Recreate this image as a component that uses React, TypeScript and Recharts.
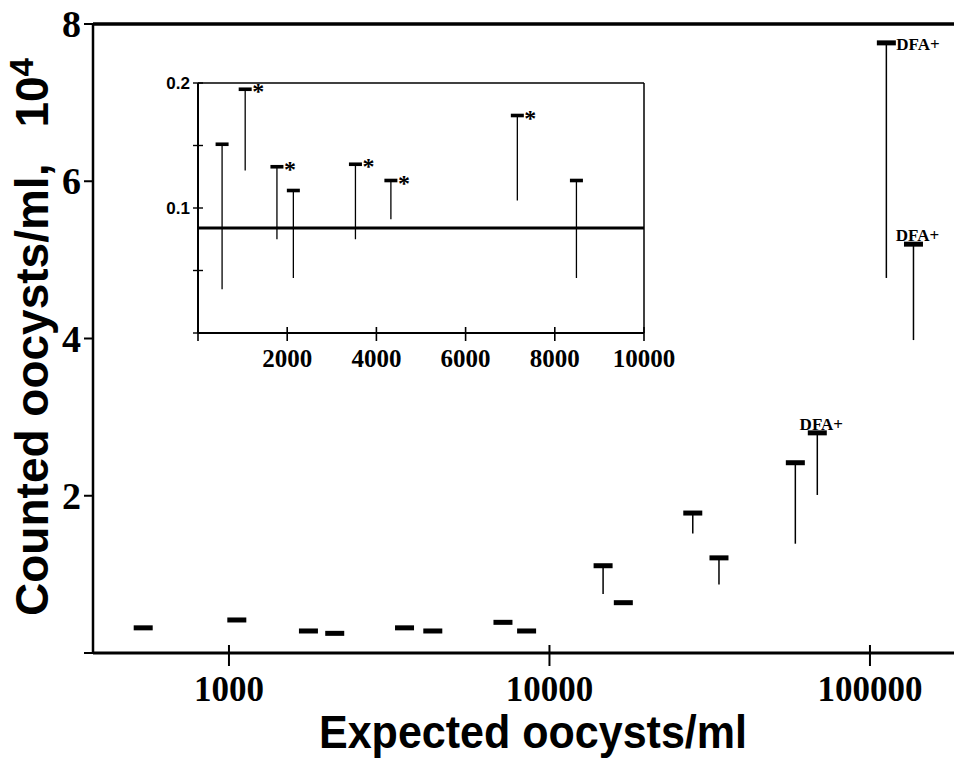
import React from 'react';
import {
  ScatterChart,
  Scatter,
  XAxis,
  YAxis,
  ErrorBar,
  ReferenceLine,
  Label,
} from 'recharts';

// ---------- data ----------
// expected oocysts/ml for the low-concentration samples (shared by main plot and inset)
const expectedLow = [540, 1058, 1770, 2138, 3530, 4325, 7160, 8485];
// counted oocysts/ml (x10^4) for those samples
const countedLowMean = [0.32, 0.42, 0.28, 0.25, 0.32, 0.28, 0.39, 0.28];

// high-concentration samples
const expectedHigh = [14700, 17000, 28000, 33800, 58500, 68500, 112500, 136700];
const countedHighMean = [1.11, 0.64, 1.78, 1.21, 2.42, 2.8, 7.76, 5.2];
const countedHighLow = [0.75, 0.64, 1.52, 0.87, 1.39, 2.01, 4.77, 3.98];
const highNotes = ['', '', '', '', '', 'DFA+', 'DFA+', 'DFA+'];

// inset values
const insetMean = [0.151, 0.195, 0.133, 0.114, 0.135, 0.122, 0.174, 0.122];
const insetLow = [0.035, 0.13, 0.075, 0.044, 0.075, 0.091, 0.106, 0.044];
const insetNotes = ['', '*', '*', '', '*', '*', '*', ''];
const insetLevel = 0.084;

// ticks
const mainXTicks = [1000, 10000, 100000];
const mainYTicks = [0, 2, 4, 6, 8];
const insetXTicks = [0, 2000, 4000, 6000, 8000, 10000];
const insetYTicks = [0, 0.05, 0.1, 0.15, 0.2];
const insetYLabels = [0.1, 0.2];

// ---------- derived tables ----------
const mainData = [
  ...expectedLow.map((x, i) => ({ x, y: countedLowMean[i], err: [0, 0], note: '' })),
  ...expectedHigh.map((x, i) => ({
    x,
    y: countedHighMean[i],
    err: [countedHighMean[i] - countedHighLow[i], 0],
    note: highNotes[i],
  })),
];

const insetData = expectedLow.map((x, i) => ({
  x,
  y: insetMean[i],
  err: [insetMean[i] - insetLow[i], 0],
  note: insetNotes[i],
}));

const SERIF = '"Liberation Serif", "Times New Roman", serif';
const SANS = '"Liberation Sans", Arial, sans-serif';

// ---------- shapes ----------
const MainMark = (props: any) => {
  const { cx, cy, payload } = props;
  const note = payload?.note;
  return (
    <g>
      <rect x={cx - 9.5} y={cy - 2.5} width={19} height={5} fill="#000" />
      {note ? (
        payload.y > 7 ? (
          <text x={cx + 10} y={cy + 7} fontFamily={SERIF} fontWeight="bold" fontSize={17} fill="#000">
            {note}
          </text>
        ) : (
          <text x={cx + 4} y={cy - 3} textAnchor="middle" fontFamily={SERIF} fontWeight="bold" fontSize={17} fill="#000">
            {note}
          </text>
        )
      ) : null}
    </g>
  );
};

const InsetMark = (props: any) => {
  const { cx, cy, payload } = props;
  const note = payload?.note;
  return (
    <g>
      <rect x={cx - 6.5} y={cy - 1.8} width={13} height={3.6} fill="#000" />
      {note ? (
        <text x={cx + 7} y={cy + 10} fontFamily={SERIF} fontWeight="bold" fontSize={24} fill="#000">
          {note}
        </text>
      ) : null}
    </g>
  );
};

// ---------- ticks ----------
const MainXTick = (props: any) => {
  const { x, y, payload } = props;
  return (
    <g>
      <line x1={x} y1={y - 8} x2={x} y2={y + 13} stroke="#000" strokeWidth={2} />
      <text x={x} y={y + 48} textAnchor="middle" fontFamily={SERIF} fontWeight="bold" fontSize={35} fill="#000">
        {payload.value}
      </text>
    </g>
  );
};

const MainYTick = (props: any) => {
  const { x, y, payload } = props;
  return (
    <g>
      <line x1={x - 9} y1={y} x2={x} y2={y} stroke="#000" strokeWidth={2} />
      {payload.value !== 0 ? (
        <text x={x - 12} y={y + 13} textAnchor="end" fontFamily={SERIF} fontWeight="bold" fontSize={38} fill="#000">
          {payload.value}
        </text>
      ) : null}
    </g>
  );
};

const InsetXTick = (props: any) => {
  const { x, y, payload } = props;
  return (
    <g>
      <line x1={x} y1={y - 6} x2={x} y2={y + 8} stroke="#000" strokeWidth={1.6} />
      {payload.value !== 0 ? (
        <text x={x} y={y + 34} textAnchor="middle" fontFamily={SERIF} fontWeight="bold" fontSize={25} fill="#000">
          {payload.value}
        </text>
      ) : null}
    </g>
  );
};

const InsetYTick = (props: any) => {
  const { x, y, payload } = props;
  const show = insetYLabels.includes(payload.value);
  return (
    <g>
      <line x1={x - 5} y1={y} x2={x + 5} y2={y} stroke="#000" strokeWidth={1.4} />
      {show ? (
        <text x={x - 8} y={y + 6} textAnchor="end" fontFamily={SANS} fontWeight="bold" fontSize={17} fill="#000">
          {payload.value}
        </text>
      ) : null}
    </g>
  );
};

// ---------- titles ----------
const XTitle = () => (
  <text
    x={525}
    y={740}
    textAnchor="middle"
    fontFamily={SANS}
    fontWeight="bold"
    fontSize={46}
    textLength={428}
    lengthAdjust="spacingAndGlyphs"
    fill="#000"
  >
    Expected oocysts/ml
  </text>
);

const YTitle = () => (
  <text
    transform="translate(40,329) rotate(-90)"
    textAnchor="middle"
    fontFamily={SANS}
    fontWeight="bold"
    fontSize={46}
    fill="#000"
  >
    Counted oocysts/ml,
    <tspan dx={36}>10</tspan>
    <tspan dy={-15} fontSize={33}>4</tspan>
  </text>
);

export default function App() {
  return (
    <div style={{ position: 'relative', width: 954, height: 763, overflow: 'hidden', background: '#fff' }}>
      <style>{'html,body{margin:0;padding:0;overflow:hidden;} .recharts-surface{display:block;}'}</style>
      <div style={{ position: 'absolute', left: 8, top: 8 }}>
        <ScatterChart width={946} height={755} margin={{ top: 16, right: 0, left: 0, bottom: 10 }}>
          <XAxis
            dataKey="x"
            type="number"
            scale="log"
            domain={[376.5, 182900]}
            allowDataOverflow
            ticks={mainXTicks}
            interval={0}
            tick={MainXTick}
            tickLine={false}
            tickSize={0}
            tickMargin={0}
            height={100}
            axisLine={{ stroke: '#000', strokeWidth: 3 }}
          >
            <Label content={XTitle} />
          </XAxis>
          <YAxis
            dataKey="y"
            type="number"
            domain={[0, 8]}
            allowDataOverflow
            ticks={mainYTicks}
            interval={0}
            tick={MainYTick}
            tickLine={false}
            tickSize={0}
            tickMargin={0}
            width={85}
            axisLine={{ stroke: '#000', strokeWidth: 2.5 }}
          >
            <Label content={YTitle} />
          </YAxis>
          <ReferenceLine y={8} stroke="#000" strokeWidth={3.5} />
          <Scatter data={mainData} shape={MainMark} isAnimationActive={false}>
            <ErrorBar dataKey="err" direction="y" width={0} stroke="#000" strokeWidth={1.5} isAnimationActive={false} />
          </Scatter>
        </ScatterChart>
      </div>

      <div style={{ position: 'absolute', left: 158, top: 73 }}>
        <ScatterChart width={546} height={300} margin={{ top: 10, right: 60, left: 0, bottom: 0 }}>
          <XAxis
            dataKey="x"
            type="number"
            domain={[0, 10000]}
            allowDataOverflow
            ticks={insetXTicks}
            interval={0}
            tick={InsetXTick}
            tickLine={false}
            tickSize={0}
            tickMargin={0}
            height={40}
            axisLine={{ stroke: '#000', strokeWidth: 2 }}
          />
          <YAxis
            dataKey="y"
            type="number"
            domain={[0, 0.2]}
            allowDataOverflow
            ticks={insetYTicks}
            interval={0}
            tick={InsetYTick}
            tickLine={false}
            tickSize={0}
            tickMargin={0}
            width={40}
            axisLine={{ stroke: '#000', strokeWidth: 2 }}
          />
          <ReferenceLine y={0.2} stroke="#000" strokeWidth={1.5} />
          <ReferenceLine x={10000} stroke="#000" strokeWidth={1.5} />
          <ReferenceLine y={insetLevel} stroke="#000" strokeWidth={3} />
          <Scatter data={insetData} shape={InsetMark} isAnimationActive={false}>
            <ErrorBar dataKey="err" direction="y" width={0} stroke="#000" strokeWidth={1.3} isAnimationActive={false} />
          </Scatter>
        </ScatterChart>
      </div>
    </div>
  );
}
